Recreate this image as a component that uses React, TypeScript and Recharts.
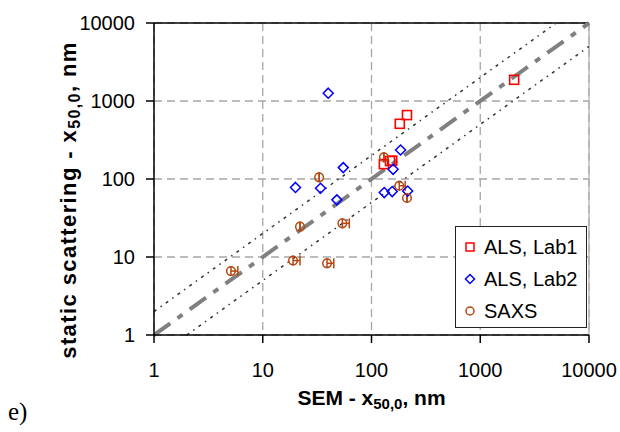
import React from 'react';
import {
  ComposedChart,
  Scatter,
  XAxis,
  YAxis,
  CartesianGrid,
  ReferenceLine,
  Legend,
  ErrorBar,
  Label,
} from 'recharts';

const xTicks = [1, 10, 100, 1000, 10000];
const yTicks = [1, 10, 100, 1000, 10000];

const lab1X = [2050, 212, 182, 130, 148, 155];
const lab1Y = [1870, 660, 510, 155, 170, 172];

const lab2X = [40, 55, 185, 158, 20, 34, 48, 131, 155, 215];
const lab2Y = [1260, 140, 235, 133, 78, 76, 54, 67, 69, 70];

const saxsX = [130, 33, 180, 212, 22, 54, 19, 39, 5.1];
const saxsY = [190, 105, 82, 57, 24.5, 27, 9, 8.3, 6.6];
const saxsErrHigh = [0, 0, 24, 0, 0, 8.5, 3, 6, 0.8];

const seriesNames = ['ALS, Lab1', 'ALS, Lab2', 'SAXS'];

const RED = '#ff0000';
const BLUE = '#0000ff';
const BROWN = '#b5460f';
const FONT = '"Liberation Sans", Arial, sans-serif';

const lab1Data = lab1X.map((x, i) => ({ x, y: lab1Y[i] }));
const lab2Data = lab2X.map((x, i) => ({ x, y: lab2Y[i] }));
const saxsData = saxsX.map((x, i) => ({ x, y: saxsY[i], err: [0, saxsErrHigh[i]] }));

const Square = (props: any) => {
  const { cx, cy } = props;
  if (cx == null || cy == null) return null;
  return <rect x={cx - 4.5} y={cy - 4.5} width={9} height={9} fill="none" stroke={RED} strokeWidth={1.6} />;
};

const Diamond = (props: any) => {
  const { cx, cy } = props;
  if (cx == null || cy == null) return null;
  const r = 5;
  return (
    <path
      d={`M${cx},${cy - r}L${cx + r},${cy}L${cx},${cy + r}L${cx - r},${cy}Z`}
      fill="none"
      stroke={BLUE}
      strokeWidth={1.5}
    />
  );
};

const Circle = (props: any) => {
  const { cx, cy } = props;
  if (cx == null || cy == null) return null;
  return <circle cx={cx} cy={cy} r={4.3} fill="none" stroke={BROWN} strokeWidth={1.5} />;
};

const legendMarkers = [
  (x: number, y: number) => <rect x={x - 4} y={y - 4} width={8} height={8} fill="none" stroke={RED} strokeWidth={1.5} />,
  (x: number, y: number) => (
    <path d={`M${x},${y - 4.5}L${x + 4.5},${y}L${x},${y + 4.5}L${x - 4.5},${y}Z`} fill="none" stroke={BLUE} strokeWidth={1.5} />
  ),
  (x: number, y: number) => <circle cx={x} cy={y} r={4} fill="none" stroke={BROWN} strokeWidth={1.5} />,
];

const renderLegend = () => (
  <div
    style={{
      width: 132,
      height: 102,
      border: '1.5px solid #222',
      background: '#fff',
      boxSizing: 'border-box',
      paddingTop: 4,
    }}
  >
    {seriesNames.map((name, i) => (
      <div key={name} style={{ display: 'flex', alignItems: 'center', height: 32, fontFamily: FONT, fontSize: 20, color: '#000' }}>
        <svg width={28} height={20} style={{ display: 'block' }}>
          {legendMarkers[i](14, 10)}
        </svg>
        <span>{name}</span>
      </div>
    ))}
  </div>
);

const XTitle = (props: any) => {
  const { viewBox } = props;
  const cx = viewBox.x + viewBox.width / 2;
  return (
    <text x={cx} y={405} textAnchor="middle" fontFamily={FONT} fontWeight="bold" fontSize={21} fill="#000">
      SEM - x
      <tspan fontSize={15} dy={4}>50,0</tspan>
      <tspan dy={-4}>, nm</tspan>
    </text>
  );
};

const YTitle = () => {
  const x = 76;
  const y = 200;
  return (
    <text
      x={x}
      y={y}
      transform={`rotate(-90, ${x}, ${y})`}
      textAnchor="middle"
      fontFamily={FONT}
      fontWeight="bold"
      fontSize={22}
      letterSpacing={1.4}
      fill="#000"
    >
      static scattering - x
      <tspan fontSize={16} dy={4}>50,0</tspan>
      <tspan dy={-4}>, nm</tspan>
    </text>
  );
};

export default function App() {
  return (
    <div style={{ position: 'absolute', left: 0, top: 0, width: 620, height: 432, background: '#fff' }}>
      <ComposedChart width={620} height={432} margin={{ top: 23, right: 31, bottom: 37, left: 74 }}>
        <CartesianGrid stroke="#a6a6a6" strokeWidth={1.3} strokeDasharray="8 5" horizontalValues={yTicks} verticalValues={xTicks} />
        <XAxis
          type="number"
          dataKey="x"
          scale="log"
          domain={[1, 10000]}
          ticks={xTicks}
          allowDataOverflow
          height={60}
          tickSize={8}
          tickMargin={20}
          stroke="#000"
          strokeWidth={1.5}
          tick={{ fill: '#000', fontSize: 20, fontFamily: FONT }}
          interval={0}
        >
          <Label content={<XTitle />} position="bottom" />
        </XAxis>
        <YAxis
          type="number"
          dataKey="y"
          scale="log"
          domain={[1, 10000]}
          ticks={yTicks}
          allowDataOverflow
          width={80}
          tickSize={8}
          tickMargin={11}
          stroke="#000"
          strokeWidth={1.5}
          tick={{ fill: '#000', fontSize: 20, fontFamily: FONT }}
          interval={0}
        >
          <Label content={<YTitle />} position="left" />
        </YAxis>
        <ReferenceLine y={10000} stroke="#000" strokeWidth={1.5} />
        <ReferenceLine x={10000} stroke="#b0b0b0" strokeWidth={1.3} />
        <ReferenceLine
          segment={[{ x: 1, y: 2 }, { x: 5000, y: 10000 }]}
          stroke="#333"
          strokeWidth={1.5}
          strokeDasharray="3 5 1.5 5"
        />
        <ReferenceLine
          segment={[{ x: 2, y: 1 }, { x: 10000, y: 5000 }]}
          stroke="#333"
          strokeWidth={1.5}
          strokeDasharray="3 5 1.5 5"
        />
        <ReferenceLine
          segment={[{ x: 1, y: 1 }, { x: 10000, y: 10000 }]}
          stroke="#808080"
          strokeWidth={4}
          strokeDasharray="20 9 6 9"
        />
        <Scatter name={seriesNames[0]} data={lab1Data} shape={<Square />} isAnimationActive={false} />
        <Scatter name={seriesNames[1]} data={lab2Data} shape={<Diamond />} isAnimationActive={false} />
        <Scatter name={seriesNames[2]} data={saxsData} shape={<Circle />} isAnimationActive={false}>
          <ErrorBar dataKey="err" direction="x" stroke={BROWN} strokeWidth={1.5} width={5} isAnimationActive={false} />
        </Scatter>
        <Legend
          layout="vertical"
          align="center"
          verticalAlign="middle"
          content={renderLegend}
          wrapperStyle={{ left: 455, top: 226, width: 132, height: 102 }}
        />
      </ComposedChart>
      <div
        style={{
          position: 'absolute',
          left: 8,
          top: 398,
          fontFamily: '"Liberation Serif", "Times New Roman", serif',
          fontSize: 25,
          color: '#000',
        }}
      >
        e)
      </div>
    </div>
  );
}
